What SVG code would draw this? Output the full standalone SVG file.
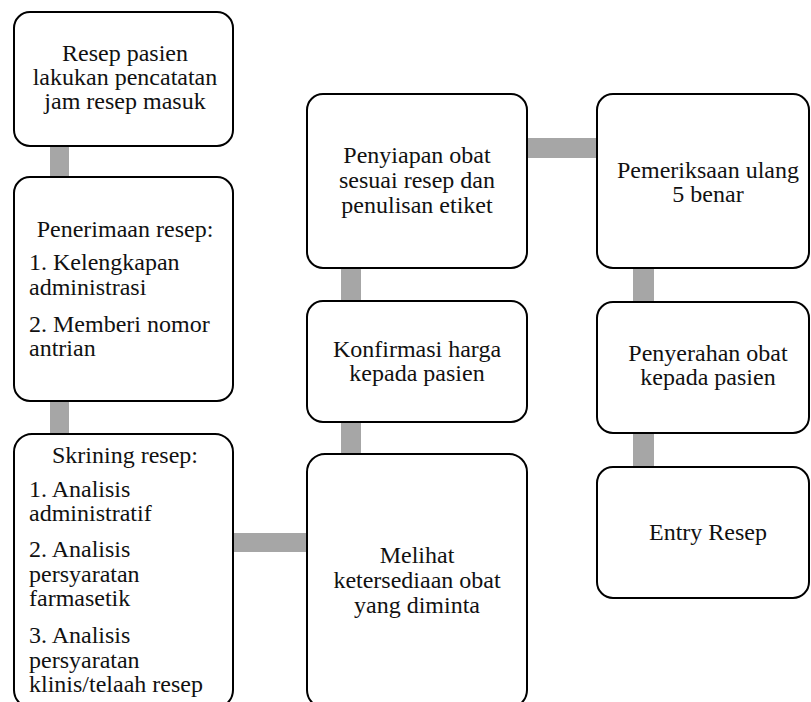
<svg xmlns="http://www.w3.org/2000/svg" width="811" height="702" viewBox="0 0 811 702">
  <style>
    .box { fill: #ffffff; stroke: #000000; stroke-width: 2; }
    .link { fill: #a6a6a6; }
    text { font-family: "Liberation Serif", "Times New Roman", serif; font-size: 24px; fill: #111111; }
    .c { text-anchor: middle; }
  </style>
  <rect width="811" height="702" fill="#ffffff"/>

  <!-- connectors (thick grey bars) -->
  <g id="connectors">
    <rect class="link" x="50" y="145" width="19" height="34"/>
    <rect class="link" x="50" y="400" width="19" height="36"/>
    <rect class="link" x="232" y="533" width="76" height="19"/>
    <rect class="link" x="341" y="421" width="20" height="34"/>
    <rect class="link" x="341" y="267" width="20" height="35"/>
    <rect class="link" x="526" y="138" width="72" height="20"/>
    <rect class="link" x="633" y="267" width="21" height="36"/>
    <rect class="link" x="633" y="432" width="21" height="36"/>
  </g>

  <g id="resep-masuk">
    <rect class="box" x="14" y="12" width="219" height="134" rx="16"/>
    <text class="c" x="125" y="61">Resep pasien</text>
    <text class="c" x="125" y="85">lakukan pencatatan</text>
    <text class="c" x="125" y="109">jam resep masuk</text>
  </g>

  <g id="penerimaan-resep">
    <rect class="box" x="14" y="177" width="219" height="224" rx="16"/>
    <text class="c" x="125" y="237">Penerimaan resep:</text>
    <text x="29" y="270">1. Kelengkapan</text>
    <text x="29" y="295">administrasi</text>
    <text x="29" y="332">2. Memberi nomor</text>
    <text x="29" y="356">antrian</text>
  </g>

  <g id="skrining-resep">
    <rect class="box" x="14" y="434" width="219" height="274" rx="18"/>
    <text class="c" x="125" y="463">Skrining resep:</text>
    <text x="29" y="497">1. Analisis</text>
    <text x="29" y="521">administratif</text>
    <text x="29" y="557">2. Analisis</text>
    <text x="29" y="582">persyaratan</text>
    <text x="29" y="606">farmasetik</text>
    <text x="29" y="643">3. Analisis</text>
    <text x="29" y="668">persyaratan</text>
    <text x="29" y="692">klinis/telaah resep</text>
  </g>

  <g id="ketersediaan-obat">
    <rect class="box" x="307" y="454" width="220" height="254" rx="18"/>
    <text class="c" x="417" y="563">Melihat</text>
    <text class="c" x="417" y="588">ketersediaan obat</text>
    <text class="c" x="417" y="613">yang diminta</text>
  </g>

  <g id="konfirmasi-harga">
    <rect class="box" x="307" y="301" width="220" height="121" rx="16"/>
    <text class="c" x="417" y="357">Konfirmasi harga</text>
    <text class="c" x="417" y="381">kepada pasien</text>
  </g>

  <g id="penyiapan-obat">
    <rect class="box" x="307" y="94" width="220" height="174" rx="16"/>
    <text class="c" x="417" y="163">Penyiapan obat</text>
    <text class="c" x="417" y="188">sesuai resep dan</text>
    <text class="c" x="417" y="213">penulisan etiket</text>
  </g>

  <g id="pemeriksaan-ulang">
    <rect class="box" x="597" y="94" width="212" height="174" rx="16"/>
    <text class="c" x="708" y="178">Pemeriksaan ulang</text>
    <text class="c" x="708" y="202">5 benar</text>
  </g>

  <g id="penyerahan-obat">
    <rect class="box" x="597" y="302" width="212" height="131" rx="16"/>
    <text class="c" x="708" y="361">Penyerahan obat</text>
    <text class="c" x="708" y="385">kepada pasien</text>
  </g>

  <g id="entry-resep">
    <rect class="box" x="597" y="467" width="212" height="131" rx="16"/>
    <text class="c" x="708" y="540">Entry Resep</text>
  </g>
</svg>
